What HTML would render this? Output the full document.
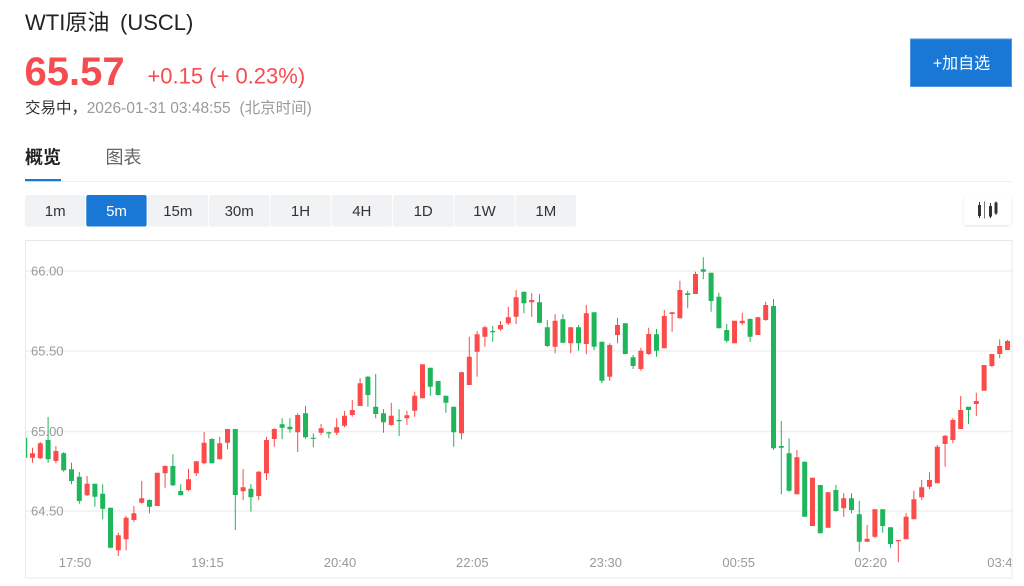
<!DOCTYPE html>
<html><head><meta charset="utf-8"><style>
html,body{margin:0;padding:0;background:#fff;width:1024px;height:586px;overflow:hidden}
svg{position:absolute;left:0;top:0}
text{font-family:"Liberation Sans","Noto Sans CJK SC",sans-serif}
</style></head><body>
<svg width="1024" height="586" viewBox="0 0 1024 586" xmlns="http://www.w3.org/2000/svg">
<defs><clipPath id="cp"><rect x="26" y="241" width="985.5" height="336.5"/></clipPath>
<filter id="sh" x="-20%" y="-20%" width="140%" height="140%"><feDropShadow dx="0" dy="1" stdDeviation="1.2" flood-color="#000" flood-opacity="0.12"/></filter></defs>

<!-- header -->
<text x="25" y="30" font-size="22" fill="#222">WTI原油<tspan x="120">(USCL)</tspan></text>
<text x="24.5" y="85" font-size="40" font-weight="bold" fill="#f54c4f">65.57</text>
<text x="147.4" y="83.3" font-size="22" fill="#f54c4f">+0.15 (+ 0.23%)</text>
<text x="25" y="113" font-size="15.5" fill="#333">交易中，<tspan fill="#999" x="86.7">2026-01-31 03:48:55</tspan><tspan fill="#999" x="239.5">(北京时间)</tspan></text>

<rect x="910.5" y="39" width="101" height="47.5" fill="#1978d6" stroke="#4f97e0" stroke-width="1"/>
<text x="961.5" y="68.5" font-size="16" fill="#fff" text-anchor="middle">+加自选</text>

<!-- tabs -->
<text x="25" y="163.5" font-size="18" font-weight="bold" fill="#222">概览</text>
<text x="105.5" y="163.5" font-size="18" fill="#666">图表</text>
<rect x="25" y="181" width="987" height="1" fill="#eeeeee"/>
<rect x="25" y="179" width="36" height="2.2" fill="#1978d6"/>

<!-- period buttons -->
<g fill="#f1f2f4">
<rect x="25" y="195" width="60.3" height="31.5" rx="2"/>
<rect x="147.7" y="195" width="60.3" height="31.5" rx="2"/>
<rect x="209" y="195" width="60.3" height="31.5" rx="2"/>
<rect x="270.3" y="195" width="60.3" height="31.5" rx="2"/>
<rect x="331.7" y="195" width="60.3" height="31.5" rx="2"/>
<rect x="393" y="195" width="60.3" height="31.5" rx="2"/>
<rect x="454.3" y="195" width="60.3" height="31.5" rx="2"/>
<rect x="515.7" y="195" width="60.3" height="31.5" rx="2"/>
</g>
<rect x="86.3" y="195" width="60.3" height="31.5" rx="2" fill="#1978d6"/>
<g font-size="15" fill="#333" text-anchor="middle">
<text x="55.2" y="216">1m</text>
<text x="116.5" y="216" fill="#fff">5m</text>
<text x="177.8" y="216">15m</text>
<text x="239.2" y="216">30m</text>
<text x="300.5" y="216">1H</text>
<text x="361.8" y="216">4H</text>
<text x="423.2" y="216">1D</text>
<text x="484.5" y="216">1W</text>
<text x="545.8" y="216">1M</text>
</g>

<!-- chart type icon button -->
<rect x="964" y="195" width="47" height="30" rx="3" fill="#fff" filter="url(#sh)"/>
<g fill="#333" stroke="#333" stroke-width="1">
<line x1="979.5" y1="202" x2="979.5" y2="218"/><rect x="978" y="205" width="3" height="11" stroke="none"/>
<line x1="984.5" y1="201.5" x2="984.5" y2="218.5" stroke="#777"/>
<line x1="990.5" y1="203" x2="990.5" y2="218"/><rect x="989" y="206" width="3" height="10.5" stroke="none"/>
<line x1="996" y1="201.5" x2="996" y2="215"/><rect x="994.5" y="202.5" width="3" height="11" stroke="none"/>
</g>

<!-- chart frame -->
<rect x="25.5" y="240.5" width="986.5" height="337.5" fill="#fff" stroke="#e8e8e8" stroke-width="1"/>
<g stroke="#efefef" stroke-width="1.4">
<line x1="26" y1="271" x2="1011.5" y2="271"/>
<line x1="26" y1="351" x2="1011.5" y2="351"/>
<line x1="26" y1="431.5" x2="1011.5" y2="431.5"/>
<line x1="26" y1="511" x2="1011.5" y2="511"/>
</g>
<g font-size="13" fill="#999">
<text x="31" y="275.5">66.00</text>
<text x="31" y="355.5">65.50</text>
<text x="31" y="436">65.00</text>
<text x="31" y="515.5">64.50</text>
</g>

<g clip-path="url(#cp)">
<!-- red wicks -->
<path fill="none" stroke="#fb4b4b" stroke-width="1" d="M32.5 447.7V462.7M40.3 442V459M55.9 446V463.3M87.1 476V496M118.3 532.7V556M126.1 516V550.3M133.9 506V522M141.7 481V503.7M157.3 472.7V506M165.1 465.3V487.7M188.5 468.7V491.3M196.3 461.3V476M204.1 432V464.3M219.7 436.7V459.3M227.5 429V449.3M243.1 469V500M258.7 471V500M266.5 436.7V480M274.3 428.3V446.7M297.7 413.3V452M321.1 424V435M336.7 418.3V435M344.5 411V427.3M352.3 400V416.7M360.1 378.3V406M391.3 402.7V425.7M406.9 410.7V425M414.7 391.7V416.7M422.5 364.3V398.3M461.5 371.7V439.3M469.3 336.7V385M477.1 331V376.7M484.9 325.7V346.7M500.5 321V330.7M508.3 306.7V325M516.1 290V324M531.7 293.3V316.7M555.1 314.3V353.3M570.7 327.3V353.3M586.3 305V354.3M609.7 343.3V381M617.5 317.7V343.3M640.9 347.7V370.7M648.7 327.7V355M664.3 310V348.3M672.1 312.3V331.7M679.9 280.7V318.3M695.5 271.7V294M734.5 320.7V343.3M742.3 312.7V325M757.9 316.7V335M765.7 301.7V320.7M796.9 450V494.3M812.5 477.7V526M828.1 492.3V527.7M843.7 493.3V516.7M867.1 525V541.7M874.9 509.3V538.3M898.3 540V562.3M906.1 513.3V539.3M913.9 490.7V519.3M921.7 480V500M929.5 472.3V489M937.3 445V483.3M945.1 435V466.7M952.9 418.3V443.3M960.7 396V429M976.3 392.7V416M984.1 365V390.7M991.9 354V367.3M999.7 339.3V358.3M1007.5 340V350"/>
<!-- red bodies -->
<path fill="#fb4b4b" d="M30 453.3h5V457.7h-5zM37.8 443.3h5V458.3h-5zM53.4 451h5V461h-5zM84.6 483.7h5V495.3h-5zM115.8 535.3h5V550.3h-5zM123.6 517.7h5V539.3h-5zM131.4 513.3h5V520h-5zM139.2 498.3h5V502.7h-5zM154.8 472.7h5V506h-5zM162.6 466h5V473.3h-5zM186 479.3h5V490h-5zM193.8 461.3h5V473.3h-5zM201.6 442.7h5V463.3h-5zM217.2 443.3h5V459.3h-5zM225 429h5V442.7h-5zM240.6 487.3h5V491.3h-5zM256.2 471.7h5V496h-5zM264 440h5V473.3h-5zM271.8 429h5V439h-5zM295.2 415h5V432.3h-5zM318.6 428.3h5V432.7h-5zM334.2 427.3h5V432.7h-5zM342 415.7h5V425.7h-5zM349.8 410h5V415h-5zM357.6 383.3h5V406h-5zM388.8 415.7h5V425h-5zM404.4 415.3h5V418.3h-5zM412.2 395.7h5V410.7h-5zM420 364.3h5V398.3h-5zM459 372.3h5V433.3h-5zM466.8 356.7h5V385h-5zM474.6 334.3h5V351.7h-5zM482.4 327.3h5V336.7h-5zM498 325h5V329.3h-5zM505.8 317.3h5V323.3h-5zM513.6 297.3h5V316.7h-5zM529.2 300h5V302.3h-5zM552.6 320.7h5V346.7h-5zM568.2 327.3h5V343.3h-5zM583.8 313.3h5V344h-5zM607.2 345h5V376.7h-5zM615 325h5V335h-5zM638.4 350.7h5V369h-5zM646.2 334h5V354h-5zM661.8 316h5V348.3h-5zM669.6 312.3h5V314h-5zM677.4 290h5V318.3h-5zM693 274h5V294h-5zM732 320.7h5V343.3h-5zM739.8 320.7h5V323.3h-5zM755.4 317.3h5V335h-5zM763.2 305h5V320h-5zM794.4 457.3h5V494.3h-5zM810 477.7h5V526h-5zM825.6 492.3h5V527.7h-5zM841.2 498.3h5V508.3h-5zM864.6 538.7h5V541.7h-5zM872.4 509.3h5V536.7h-5zM895.8 540h5V541.3h-5zM903.6 516.7h5V539.3h-5zM911.4 499.3h5V519.3h-5zM919.2 487.3h5V497.3h-5zM927 480h5V486.7h-5zM934.8 446.7h5V483.3h-5zM942.6 435.7h5V444h-5zM950.4 420h5V440h-5zM958.2 410h5V429h-5zM973.8 401h5V404h-5zM981.6 365h5V390.7h-5zM989.4 354h5V366h-5zM997.2 346h5V354h-5zM1005 341h5V350h-5z"/>
<!-- green wicks -->
<path fill="none" stroke="#1eb55b" stroke-width="1" d="M24.7 437.7V457.7M48.1 417V462.7M63.7 452V471.7M71.5 462.7V484.3M79.3 472V503.7M94.9 483.7V506.7M102.7 484.3V519.3M110.5 507.7V548.3M149.5 499.3V513.3M172.9 454.3V486M180.7 484.3V495.3M211.9 438.3V463.3M235.3 429V530M250.9 484V511.7M282.1 418.3V439.3M289.9 418.3V432.7M305.5 405.7V438.7M313.3 433.3V447.3M328.9 431.7V438.3M367.9 376V406.7M375.7 374V418.3M383.5 409.3V432.7M399.1 409.3V436M430.3 367.7V395.7M438.1 381V395.5M445.9 395.7V412.7M453.7 406.7V446.7M492.7 326V341.7M523.9 291.7V313.3M539.5 294V323.3M547.3 320V346.7M562.9 314.3V343.3M578.5 325V350.7M594.1 312.3V350M601.9 341.7V383.3M625.3 323.3V354M633.1 355V369M656.5 329V356.7M687.7 290.7V308.3M703.3 257.3V279.3M711.1 272.7V311.7M718.9 292.7V328.3M726.7 324V342.7M750.1 318.3V341.7M773.5 299V450M781.3 421V494.3M789.1 438.3V491.7M804.7 461.7V516.7M820.3 485V533.3M835.9 485V511.7M851.5 493.3V513.3M859.3 500.7V551.7M882.7 509.3V532.7M890.5 527.3V547.7M968.5 406.7V424"/>
<!-- green bodies -->
<path fill="#1eb55b" d="M22.2 437.7h5V457.7h-5zM45.6 440h5V459.3h-5zM61.2 453.3h5V470.3h-5zM69 469.3h5V481h-5zM76.8 476.7h5V501h-5zM92.4 483.7h5V496.7h-5zM100.2 493.7h5V508.7h-5zM108 507.7h5V547.7h-5zM147 500h5V506.7h-5zM170.4 466h5V485.3h-5zM178.2 491h5V495.3h-5zM209.4 439h5V463.3h-5zM232.8 429h5V495h-5zM248.4 488.7h5V497.3h-5zM279.6 424.3h5V427.7h-5zM287.4 426.7h5V429.3h-5zM303 413.3h5V437.3h-5zM310.8 437.7h5V438.9h-5zM326.4 432.3h5V433.5h-5zM365.4 376.7h5V395h-5zM373.2 406.7h5V414h-5zM381 413.3h5V422.3h-5zM396.6 420h5V421.2h-5zM427.8 367.7h5V386.7h-5zM435.6 381h5V395h-5zM443.4 395.7h5V402.7h-5zM451.2 406.7h5V432.3h-5zM490.2 331h5V332.2h-5zM521.4 291.7h5V303.3h-5zM537 302.3h5V322.7h-5zM544.8 327.3h5V346h-5zM560.4 319.3h5V342.7h-5zM576 327.3h5V343.3h-5zM591.6 312.3h5V346.7h-5zM599.4 341.7h5V380.7h-5zM622.8 323.3h5V354h-5zM630.6 357.3h5V366h-5zM654 334.3h5V350.7h-5zM685.2 293.3h5V295h-5zM700.8 269.3h5V271.7h-5zM708.6 272.7h5V301h-5zM716.4 296.7h5V328.3h-5zM724.2 330h5V340.7h-5zM747.6 319h5V336.7h-5zM771 306h5V448.3h-5zM778.8 446h5V447.7h-5zM786.6 453.3h5V490.7h-5zM802.2 461.7h5V516.7h-5zM817.8 485h5V533.3h-5zM833.4 490h5V511h-5zM849 498.3h5V510h-5zM856.8 514.3h5V541.7h-5zM880.2 509.3h5V526h-5zM888 527.3h5V544h-5zM966 406.7h5V410h-5z"/>

<!-- x labels -->
<g font-size="13" fill="#999" text-anchor="middle">
<text x="75" y="567">17:50</text>
<text x="207.5" y="567">19:15</text>
<text x="340" y="567">20:40</text>
<text x="472.3" y="567">22:05</text>
<text x="605.7" y="567">23:30</text>
<text x="738.7" y="567">00:55</text>
<text x="870.7" y="567">02:20</text>
<text x="1003.5" y="567">03:45</text>
</g>
</g>
<line x1="1012" y1="240.5" x2="1012" y2="578" stroke="#e8e8e8" stroke-width="1"/>
</svg>
</body></html>
